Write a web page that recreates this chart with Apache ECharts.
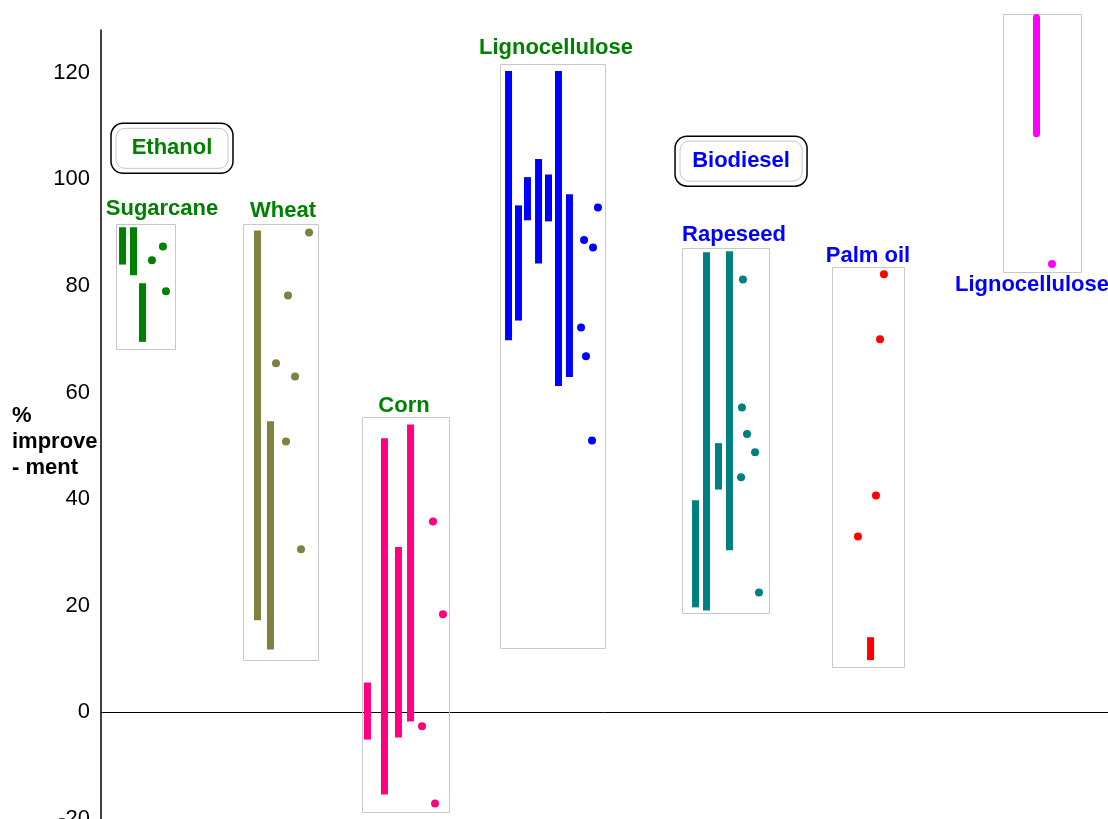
<!DOCTYPE html>
<html><head><meta charset="utf-8">
<script src="https://cdn.jsdelivr.net/npm/echarts@6/dist/echarts.min.js"></script>
<style>html,body{margin:0;padding:0;background:#fff}#c{width:1108px;height:819px}</style>
</head><body><div id="c"></div>
<script>
// ---- data ----
const groupNames = ['Sugarcane','Wheat','Corn','Lignocellulose','Rapeseed','Palm oil','Lignocellulose'];
// range boxes: [xStart, xEnd, low %, high %]
const groupBoxes = [[1.49,7.35,68.3,91.7],[14.1,21.55,9.8,91.6],[25.92,34.56,-18.6,55.5],[39.62,50.05,12.0,121.6],[57.7,66.34,18.6,87.1],[72.59,79.74,8.4,83.5],[89.57,97.32,82.6,131]];
// bars: [x, low %, high %]; dots: [x, %]
const sugarcaneBars = [[2.14,84,91],[3.23,82,91],[4.12,69.5,80.5]];
const sugarcaneDots = [[5.06,84.8],[6.15,87.4],[6.45,79.0]];
const wheatBars = [[15.54,17.3,90.4],[16.83,11.8,54.6]];
const wheatDots = [[20.66,90.0],[18.57,78.2],[17.38,65.5],[19.27,63.0],[18.37,50.8],[19.86,30.6]];
const cornBars = [[26.46,-5.1,5.6],[28.15,-15.4,51.4],[29.54,-4.7,31.0],[30.74,-1.7,54.0]];
const cornDots = [[32.97,35.8],[33.96,18.4],[31.88,-2.6],[33.17,-17.1]];
const lignoEthBars = [[40.47,69.8,120.3],[41.46,73.5,95.1],[42.35,92.3,100.4],[43.45,84.2,103.8],[44.44,92.1,100.9],[45.43,61.2,120.3],[46.52,62.9,97.2]];
const lignoEthDots = [[49.35,94.7],[47.97,88.6],[48.86,87.2],[47.67,72.2],[48.16,66.8],[48.76,51.0]];
const rapeseedBars = [[59.04,19.7,39.8],[60.13,19.1,86.3],[61.32,41.8,50.5],[62.41,30.4,86.5]];
const rapeseedDots = [[63.75,81.2],[63.65,57.2],[64.15,52.2],[64.95,48.8],[63.56,44.1],[65.34,22.5]];
const palmBars = [[76.42,9.8,14.1]];
const palmDots = [[77.75,82.2],[77.36,70.0],[76.96,40.7],[75.17,33.0]];
const lignoBioBars = [[92.9,107.9,131]];
const lignoBioDots = [[94.44,84.1]];
const fuelNames = ['Ethanol','Biodiesel'];
const fuelAnchors = [[7.05,105.8],[63.56,103.4]];
const yMin = -20, yMax = 128, yStep = 20;

// ---- styles ----
const groupColors = ['#008000','#808040','#ff0080','#0000ff','#008080','#ff0000','#ff00ff'];
const labelColors = ['#008000','#008000','#008000','#008000','#0000ff','#0000ff','#0000ff'];
const labelOffsets = [[16.5,-15,0],[2.5,-13,0],[-1.5,-11,0],[3.5,-16,0],[8.5,-13,0],[0,-11,0],[-10,13,1]];
const fuelColors = ['#008000','#0000ff'];
const fuelSizes = [[122,50],[132,50]];
const FONT = '"Liberation Sans", Arial, sans-serif';

const barSets = [sugarcaneBars,wheatBars,cornBars,lignoEthBars,rapeseedBars,palmBars,lignoBioBars];
const dotSets = [sugarcaneDots,wheatDots,cornDots,lignoEthDots,rapeseedDots,palmDots,lignoBioDots];

const series = [];
series.push({
  type:'custom', data: groupBoxes, silent:true, z:1,
  renderItem(params, api){
    const i = params.dataIndex;
    const p0 = api.coord([api.value(0), api.value(3)]);
    const p1 = api.coord([api.value(1), api.value(2)]);
    const off = labelOffsets[i];
    const cx = (p0[0]+p1[0])/2 + off[0];
    const cy = off[2] ? p1[1] + off[1] : p0[1] + off[1];
    return {type:'group', children:[
      {type:'rect', shape:{x:Math.round(p0[0])+0.5,y:Math.round(p0[1])+0.5,width:Math.round(p1[0]-p0[0]),height:Math.round(p1[1]-p0[1])},
       style:{fill:'none',stroke:'#c8c8c8',lineWidth:1}},
      {type:'text', style:{text:groupNames[i], x:cx, y:cy, align:'center', verticalAlign:'middle',
       fill:labelColors[i], font:'bold 22px '+FONT}}
    ]};
  }
});
barSets.forEach((bars, g) => {
  series.push({
    type:'custom', data: bars, silent:true, z:3,
    renderItem(params, api){
      const top = api.coord([api.value(0), api.value(2)]);
      const bot = api.coord([api.value(0), api.value(1)]);
      return {type:'rect', shape:{x:top[0]-3.5, y:top[1], width:7, height:bot[1]-top[1], r: g===6?3.5:0},
        style:{fill:groupColors[g]}};
    }
  });
  series.push({
    type:'scatter', data: dotSets[g], symbolSize:8, silent:true, z:4,
    itemStyle:{color:groupColors[g], opacity:1}
  });
});
series.push({
  type:'custom', data: fuelAnchors, silent:true, z:5,
  renderItem(params, api){
    const i = params.dataIndex;
    const c = api.coord([api.value(0), api.value(1)]);
    const w = fuelSizes[i][0], h = fuelSizes[i][1];
    return {type:'group', children:[
      {type:'rect', shape:{x:c[0]-w/2, y:c[1]-h/2, width:w, height:h, r:12}, style:{fill:'#fff', stroke:'#000', lineWidth:1.5}},
      {type:'rect', shape:{x:c[0]-w/2+5, y:c[1]-h/2+5, width:w-10, height:h-10, r:9}, style:{fill:'none', stroke:'#c8c8c8', lineWidth:1}},
      {type:'text', style:{text:fuelNames[i], x:c[0], y:c[1], align:'center', verticalAlign:'middle', fill:fuelColors[i], font:'bold 22px '+FONT}}
    ]};
  }
});

const chart = echarts.init(document.getElementById('c'), null, {renderer:'canvas'});
chart.setOption({
  animation:false,
  backgroundColor:'#fff',
  title:{text:'%\nimprove\n- ment', left:12, top:403, padding:0,
    textStyle:{fontFamily:FONT, fontSize:22, fontWeight:'bold', color:'#000', lineHeight:26}},
  grid:{left:101, right:0, top:30, bottom:0, containLabel:false, outerBoundsMode:'none'},
  xAxis:{type:'value', min:0, max:100, axisLabel:{show:false}, axisTick:{show:false}, splitLine:{show:false},
    axisLine:{show:true, onZero:true, lineStyle:{color:'#000', width:1}}},
  yAxis:{type:'value', min:yMin, max:yMax, interval:yStep, splitLine:{show:false}, axisTick:{show:false},
    axisLine:{show:true, lineStyle:{color:'#000', width:1.5}},
    axisLabel:{color:'#000', fontFamily:FONT, fontSize:22, margin:11, padding:[0,0,10,0], showMaxLabel:false}},
  series
});
</script></body></html>
